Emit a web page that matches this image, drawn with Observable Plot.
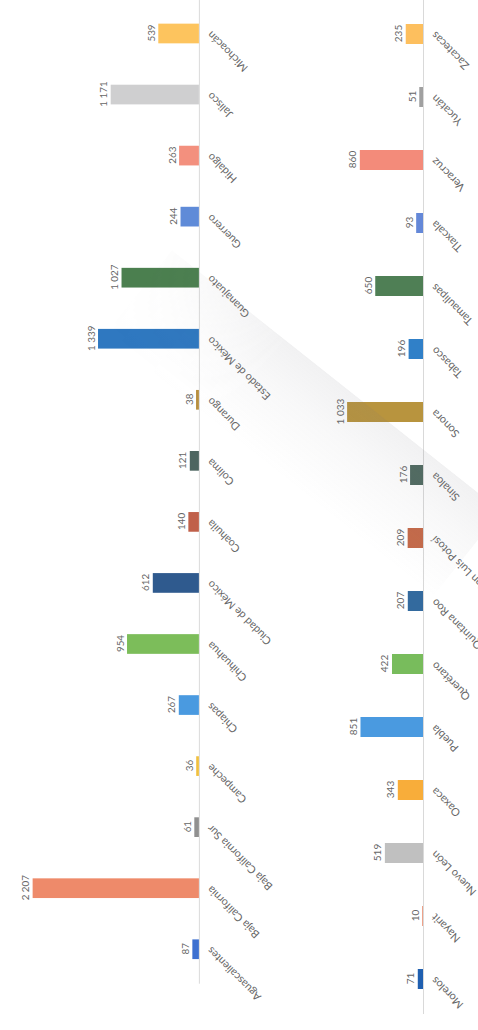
<!DOCTYPE html>
<html><head><meta charset="utf-8">
<script src="https://cdn.jsdelivr.net/npm/d3@7"></script>
<script src="https://cdn.jsdelivr.net/npm/@observablehq/plot@0.6"></script>
<style>
html,body{margin:0;padding:0;width:478px;height:1030px;overflow:hidden;background:#fff;}
#page{position:absolute;left:0;top:0;width:1030px;height:478px;transform-origin:0 0;transform:translate(0,1030px) rotate(-90deg);}
#p1,#p2{position:absolute;left:0;}
#p1{top:0px}
#p2{top:315px}
svg{overflow:visible}
#fold{position:absolute;left:172px;top:250px;width:420px;height:110px;transform-origin:0 0;transform:rotate(38.4deg);
  background:linear-gradient(to bottom, rgba(120,120,130,0.10), rgba(120,120,130,0.05) 40%, rgba(120,120,130,0));
  -webkit-mask-image:linear-gradient(to right, rgba(0,0,0,0.15), #000 35%);
  mask-image:linear-gradient(to right, rgba(0,0,0,0.15), #000 35%);
  pointer-events:none;}
</style></head><body><div id="page"><div id="p1"></div><div id="p2"></div></div><div id="fold"></div>
<script>
const states1 = ["Aguascalientes","Baja California","Baja California Sur","Campeche","Chiapas","Chihuahua","Ciudad de México","Coahuila","Colima","Durango","Estado de México","Guanajuato","Guerrero","Hidalgo","Jalisco","Michoacán"];
const values1 = [87, 2207, 61, 36, 267, 954, 612, 140, 121, 38, 1339, 1027, 244, 263, 1171, 539];
const colors1 = ["#3d70d0","#ee8a6a","#909090","#f0c040","#4a9ae0","#7cbd5a","#2f5a8e","#c0604a","#4d6560","#b89040","#2f78c0","#4b7f4f","#5f8bd8","#f3907e","#cfcfd0","#fdc45e"];

const states2 = ["Morelos","Nayarit","Nuevo León","Oaxaca","Puebla","Querétaro","Quintana Roo","San Luis Potosí","Sinaloa","Sonora","Tabasco","Tamaulipas","Tlaxcala","Veracruz","Yucatán","Zacatecas"];
const values2 = [71, 10, 519, 343, 851, 422, 207, 209, 176, 1033, 196, 650, 93, 860, 51, 235];
const colors2 = ["#1f5fb0","#e88060","#c0c0c0","#f8ad3a","#4a9ae0","#78bc5c","#336a9e","#c56a4a","#4f6a60","#b8943e","#3080c8","#4f7f55","#6488d8","#f38b7a","#a0a0a0","#fdbf5e"];

const fmt = v => d3.format(",")(v).replace(/,/g, " ");

function panel(states, values, colors, o) {
  const data = states.map((s, i) => ({state: s, value: values[i], color: colors[i]}));
  return Plot.plot({
    width: o.width, height: o.height,
    marginLeft: o.ml, marginRight: 0, marginTop: 0, marginBottom: o.mb,
    style: {fontFamily: "Lato, 'Open Sans', sans-serif", fontSize: "11px", color: "#666", background: "transparent", overflow: "visible"},
    x: {domain: states, paddingInner: o.pi, paddingOuter: o.pi / 2, label: null, tickRotate: -45, tickSize: 0, tickPadding: 10},
    y: {domain: [0, o.ymax], axis: null},
    color: {type: "identity"},
    marks: [
      Plot.ruleY([0], {stroke: "#d9d9d9", strokeWidth: 1}),
      Plot.barY(data, {x: "state", y: "value", fill: "color"}),
      Plot.text(data, {x: "state", y: "value", text: d => fmt(d.value), lineAnchor: "bottom", dy: -4, fill: "#666", fontSize: 10})
    ]
  });
}

document.getElementById("p1").append(panel(states1, values1, colors1, {width: 1046, height: 315, ml: 47, mb: 113, pi: 0.68, ymax: 2640}));
document.getElementById("p2").append(panel(states2, values2, colors2, {width: 1030, height: 163, ml: 16, mb: 55, pi: 0.69, ymax: 1470}));
</script>
</body></html>
